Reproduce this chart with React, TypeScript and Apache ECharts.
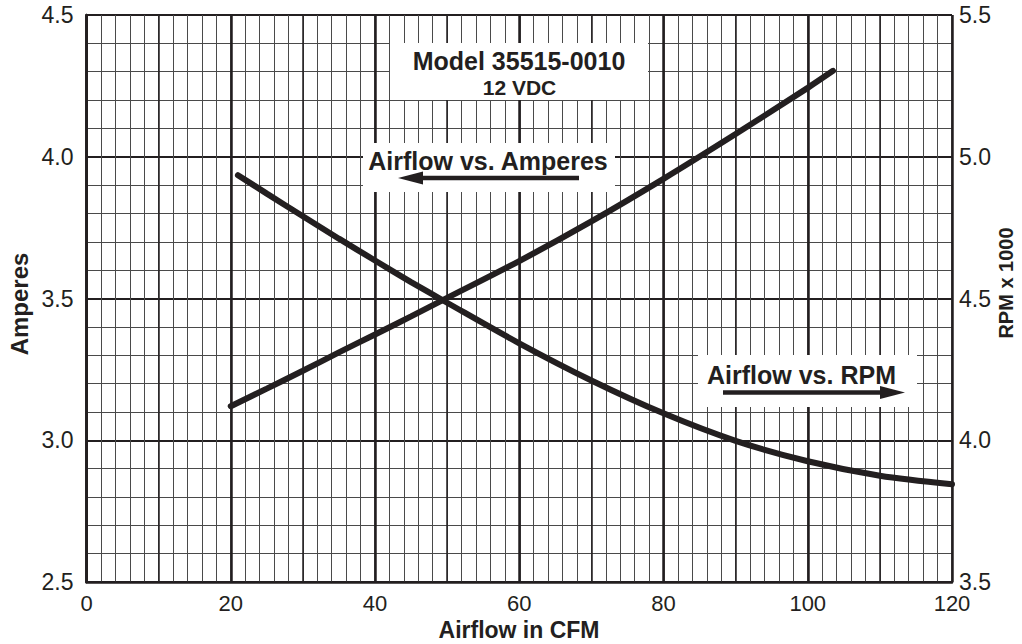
import React, { useEffect, useRef } from "react";
import * as echarts from "echarts";

// Airflow (CFM) vs. Amperes (left axis)
const cfmAmps = [20, 25, 30, 35, 40, 45, 50, 60, 70, 80, 90, 100, 103.5];
const amps = [3.12, 3.182, 3.245, 3.31, 3.373, 3.437, 3.502, 3.632, 3.772, 3.922, 4.08, 4.243, 4.303];

// Airflow (CFM) vs. RPM x 1000 (right axis)
const cfmRpm = [21, 25, 30, 35, 40, 45, 50, 60, 70, 80, 90, 100, 110, 120];
const rpm = [4.935, 4.87, 4.79, 4.711, 4.634, 4.558, 4.485, 4.342, 4.211, 4.095, 3.998, 3.926, 3.875, 3.845];

const titleMain = "Model 35515-0010";
const titleSub = "12 VDC";
const ampLabel = "Airflow vs. Amperes";
const rpmLabel = "Airflow vs. RPM";
const xName = "Airflow in CFM";
const yLeftName = "Amperes";
const yRightName = "RPM x 1000";

const INK = "#231f20";
const FONT = "'Liberation Sans', Arial, Helvetica, sans-serif";

export default function App() {
  const ref = useRef<HTMLDivElement>(null);
  useEffect(() => {
    if (!ref.current) return;
    const chart = echarts.init(ref.current, null, { renderer: "svg" });
    const option: any = {
      animation: false,
      backgroundColor: "#ffffff",
      textStyle: { fontFamily: FONT, color: INK },
      grid: { left: 86.5, right: 70, top: 15, bottom: 62, outerBoundsMode: "none", containLabel: false },
      xAxis: [
        {
          type: "value",
          min: 0,
          max: 120,
          interval: 20,
          position: "bottom",
          axisLine: { show: true, lineStyle: { color: INK, width: 2.5 } },
          axisTick: { show: false },
          axisLabel: { fontSize: 22, color: INK, margin: 10, fontFamily: FONT },
          splitLine: { show: true, lineStyle: { color: INK, width: 2.5 } },
          minorTick: { show: false, splitNumber: 10 },
          minorSplitLine: { show: true, lineStyle: { color: "#4a4a4a", width: 1 } },
        },
        {
          type: "value",
          min: 0,
          max: 120,
          interval: 10,
          position: "top",
          axisLine: { show: false },
          axisTick: { show: false },
          axisLabel: { show: false },
          splitLine: { show: true, lineStyle: { color: INK, width: 1.5 } },
        },
      ],
      yAxis: [
        {
          type: "value",
          min: 2.5,
          max: 4.5,
          interval: 0.5,
          position: "left",
          axisLine: { show: true, lineStyle: { color: INK, width: 2.5 } },
          axisTick: { show: false },
          axisLabel: {
            fontSize: 23,
            color: INK,
            margin: 13,
            fontFamily: FONT,
            formatter: (v: number) => v.toFixed(1),
          },
          splitLine: { show: true, lineStyle: { color: INK, width: 2 } },
          minorTick: { show: false, splitNumber: 5 },
          minorSplitLine: { show: true, lineStyle: { color: "#4a4a4a", width: 1 } },
        },
        {
          type: "value",
          min: 3.5,
          max: 5.5,
          interval: 0.5,
          position: "right",
          axisLine: { show: true, lineStyle: { color: INK, width: 2.5 } },
          axisTick: { show: false },
          axisLabel: {
            fontSize: 23,
            color: INK,
            margin: 7,
            fontFamily: FONT,
            formatter: (v: number) => v.toFixed(1),
          },
          splitLine: { show: false },
        },
      ],
      series: [
        {
          name: "Amperes",
          type: "line",
          xAxisIndex: 0,
          yAxisIndex: 0,
          data: cfmAmps.map((x, i) => [x, amps[i]]),
          smooth: 0.3,
          showSymbol: false,
          lineStyle: { color: INK, width: 6, cap: "round" },
          z: 10,
        },
        {
          name: "RPM",
          type: "line",
          xAxisIndex: 0,
          yAxisIndex: 1,
          data: cfmRpm.map((x, i) => [x, rpm[i]]),
          smooth: 0.3,
          showSymbol: false,
          lineStyle: { color: INK, width: 6, cap: "round" },
          z: 10,
        },
      ],
      graphic: [
        // axis names
        {
          type: "text",
          x: 519,
          y: 629.5,
          style: { text: xName, fill: INK, font: `bold 23px ${FONT}`, textAlign: "center", textVerticalAlign: "middle" },
          z: 6,
        },
        {
          type: "text",
          x: 19,
          y: 304,
          rotation: Math.PI / 2,
          style: { text: yLeftName, fill: INK, font: `bold 24px ${FONT}`, textAlign: "center", textVerticalAlign: "middle" },
          z: 6,
        },
        {
          type: "text",
          x: 1006,
          y: 283,
          rotation: Math.PI / 2,
          style: { text: yRightName, fill: INK, font: `bold 20px ${FONT}`, textAlign: "center", textVerticalAlign: "middle" },
          z: 6,
        },
        // title box
        { type: "rect", shape: { x: 390, y: 43, width: 258, height: 57 }, style: { fill: "#fff" }, z: 5 },
        {
          type: "text",
          x: 519,
          y: 61,
          style: { text: titleMain, fill: INK, font: `bold 25px ${FONT}`, textAlign: "center", textVerticalAlign: "middle" },
          z: 6,
        },
        {
          type: "text",
          x: 519.5,
          y: 87,
          style: { text: titleSub, fill: INK, font: `bold 21px ${FONT}`, textAlign: "center", textVerticalAlign: "middle" },
          z: 6,
        },
        // Amperes label box
        { type: "rect", shape: { x: 363, y: 143, width: 252, height: 49 }, style: { fill: "#fff" }, z: 5 },
        {
          type: "text",
          x: 488,
          y: 161,
          style: { text: ampLabel, fill: INK, font: `bold 25px ${FONT}`, textAlign: "center", textVerticalAlign: "middle" },
          z: 6,
        },
        {
          type: "line",
          shape: { x1: 418, y1: 178, x2: 579, y2: 178 },
          style: { stroke: INK, lineWidth: 4.5 },
          z: 6,
        },
        {
          type: "polygon",
          shape: { points: [[398, 178], [423, 171.5], [423, 184.5]] },
          style: { fill: INK },
          z: 6,
        },
        // RPM label box
        { type: "rect", shape: { x: 698, y: 355, width: 219, height: 52 }, style: { fill: "#fff" }, z: 5 },
        {
          type: "text",
          x: 801.5,
          y: 375,
          style: { text: rpmLabel, fill: INK, font: `bold 25px ${FONT}`, textAlign: "center", textVerticalAlign: "middle" },
          z: 6,
        },
        {
          type: "line",
          shape: { x1: 723, y1: 392.5, x2: 884, y2: 392.5 },
          style: { stroke: INK, lineWidth: 4.5 },
          z: 6,
        },
        {
          type: "polygon",
          shape: { points: [[905, 392.5], [880, 386], [880, 399]] },
          style: { fill: INK },
          z: 6,
        },
      ],
    };
    chart.setOption(option);
    return () => chart.dispose();
  }, []);
  return (
    <div
      ref={ref}
      style={{ position: "fixed", left: 0, top: 0, width: 1022, height: 644, background: "#fff" }}
    />
  );
}
